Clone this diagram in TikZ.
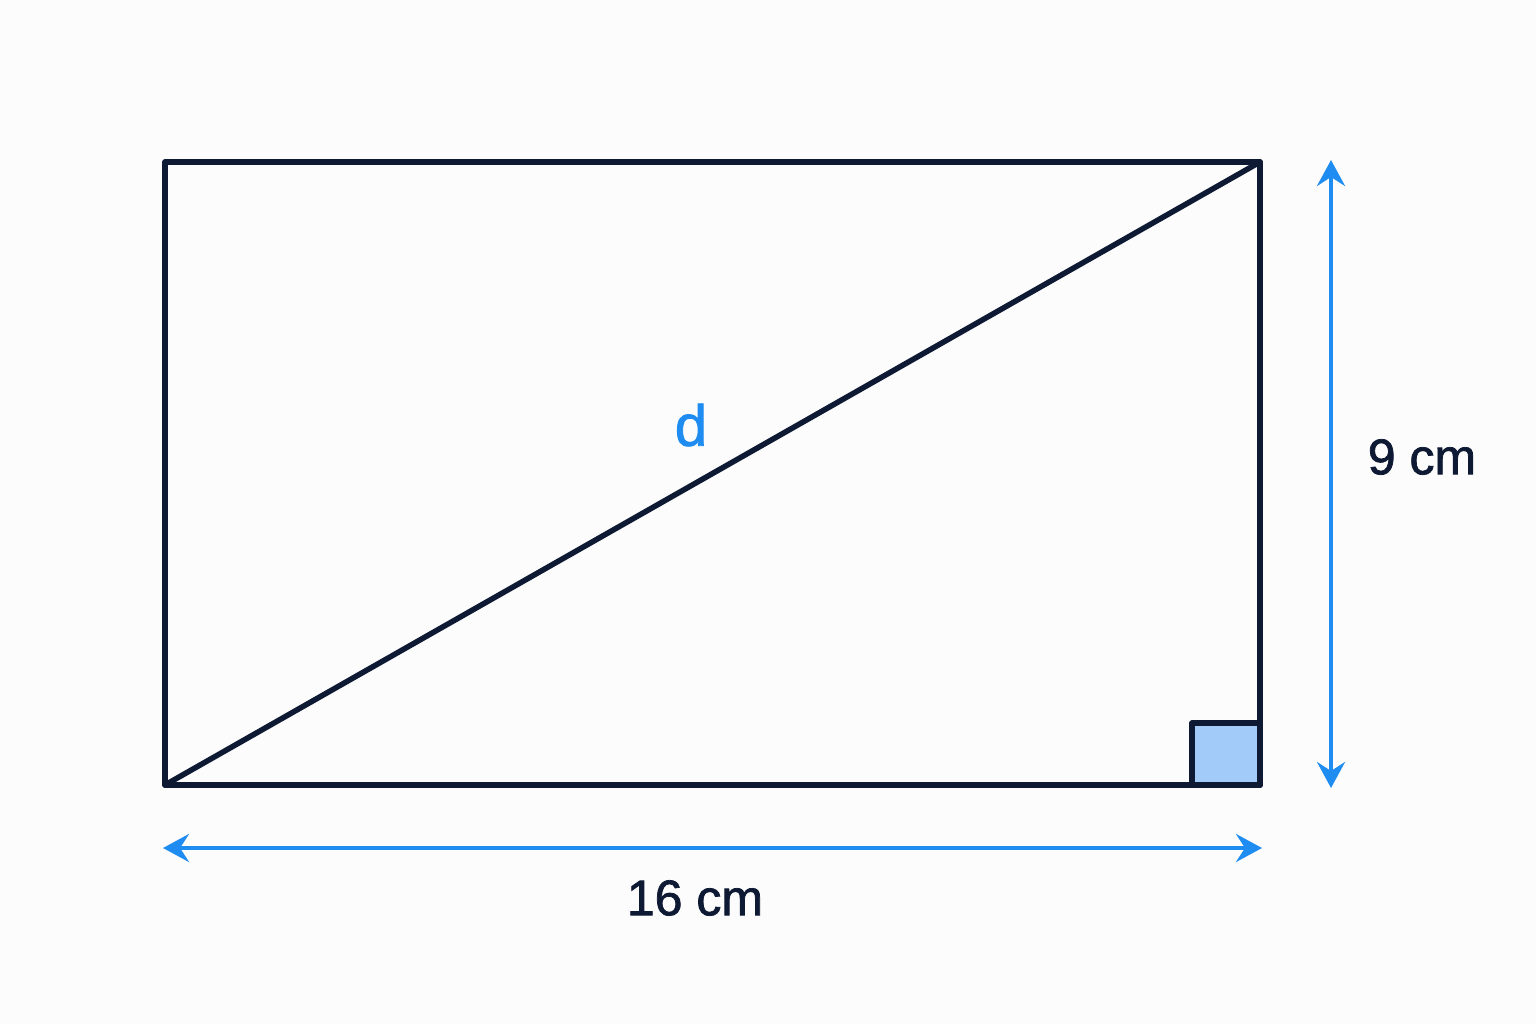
\documentclass[tikz,border=0pt]{standalone}
\usepackage{fontspec}
\setmainfont{Liberation Sans}
\newfontfamily\medfont{Liberation Sans}[FakeBold=1.5]
\usetikzlibrary{arrows.meta}
\definecolor{navy}{HTML}{0E1A33}
\definecolor{dimblue}{HTML}{1E8CF0}
\definecolor{sqfill}{HTML}{A2CBFA}
\tikzset{
  edge/.style={draw=navy,line width=5.5pt,line join=round,line cap=round},
  dimline/.style={draw=dimblue,line width=4pt,{Stealth[length=26pt,width=28pt,inset=9pt]}-{Stealth[length=26pt,width=28pt,inset=9pt]}},
  dimlabel/.style={text=navy,font=\medfont\fontsize{50}{60}\selectfont},
}
\begin{document}
\begin{tikzpicture}[x=1pt,y=-1pt]
\useasboundingbox (0,0) rectangle (1536,1024);
\fill[white!99!black] (0,0) rectangle (1536,1024);
\coordinate (A) at (165,785);
\coordinate (B) at (1260,785);
\coordinate (C) at (1260,162);
\coordinate (D) at (165,162);
\filldraw[fill=sqfill,edge] (1192,785) rectangle (1260,723);
\draw[edge] (A) -- (B) -- (C) -- (D) -- cycle;
\draw[edge] (A) -- (C);
\coordinate (h1) at (163,848);
\coordinate (h2) at (1262,848);
\coordinate (v1) at (1331,160);
\coordinate (v2) at (1331,788);
\draw[dimline] (h1) -- (h2);
\draw[dimline] (v1) -- (v2);
\node[dimlabel] (lw) at (695,898) {16 cm};
\node[dimlabel] (lh) at (1422,457) {9 cm};
\node[text=dimblue,font=\medfont\fontsize{58}{64}\selectfont] (ld) at (691,425) {d};
\end{tikzpicture}
\end{document}
